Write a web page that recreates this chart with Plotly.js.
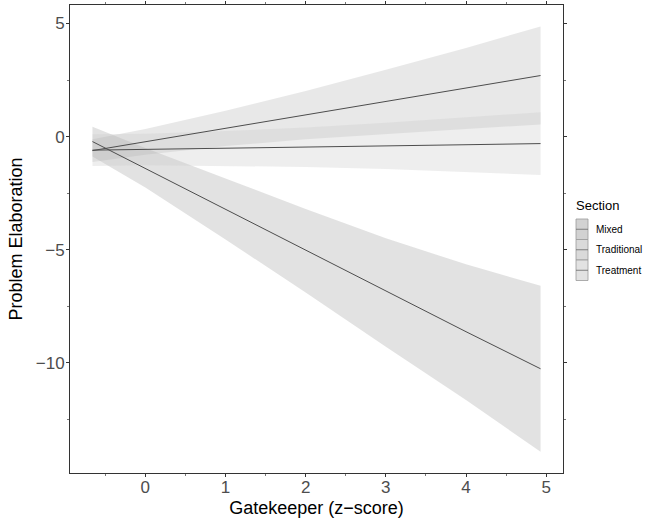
<!DOCTYPE html>
<html>
<head>
<meta charset="utf-8">
<script src="https://cdn.plot.ly/plotly-3.0.1.min.js"></script>
<style>html,body{margin:0;padding:0;background:#fff;}#chart{width:645px;height:526px;}</style>
</head>
<body>
<div id="chart"></div>
<script>
// Data
var gatekeeper = [-0.66, 0, 1, 2, 3, 4, 4.93];
var sections = ["Mixed", "Traditional", "Treatment"];

var mixedFit   = [-0.22, -1.41, -3.22, -5.02, -6.83, -8.63, -10.27];
var mixedUpper = [0.44, -0.50, -1.85, -3.20, -4.50, -5.65, -6.60];
var mixedLower = [-0.88, -2.25, -4.55, -6.90, -9.30, -11.65, -13.94];

var tradFit   = [-0.62, -0.23, 0.37, 0.96, 1.56, 2.15, 2.70];
var tradUpper = [-0.12, 0.33, 1.14, 2.02, 2.96, 3.92, 4.87];
var tradLower = [-1.12, -0.80, -0.42, -0.12, 0.12, 0.34, 0.53];

var treatFit   = [-0.60, -0.57, -0.52, -0.47, -0.41, -0.36, -0.31];
var treatUpper = [0.10, 0.13, 0.25, 0.40, 0.61, 0.84, 1.08];
var treatLower = [-1.30, -1.27, -1.29, -1.34, -1.43, -1.56, -1.70];

var xTicks = [0, 1, 2, 3, 4, 5];
var yTicks = [-10, -5, 0, 5];

var fits = [mixedFit, tradFit, treatFit];
var uppers = [mixedUpper, tradUpper, treatUpper];
var lowers = [mixedLower, tradLower, treatLower];
var bandFills = ['rgba(51,51,51,0.14)', 'rgba(127,127,127,0.18)', 'rgba(204,204,204,0.33)'];
var keyFills = ['#d2d2d2', '#dadada', '#e2e2e2'];
var lineColor = '#4d4d4d';

var traces = [];
for (var i = 0; i < sections.length; i++) {
  var xr = gatekeeper.slice().reverse();
  var lr = lowers[i].slice().reverse();
  traces.push({
    type: 'scatter', mode: 'lines', name: sections[i] + ' CI',
    x: gatekeeper.concat(xr), y: uppers[i].concat(lr),
    fill: 'toself', fillcolor: bandFills[i],
    line: {width: 0}, hoverinfo: 'skip', showlegend: false
  });
}
for (var j = 0; j < sections.length; j++) {
  traces.push({
    type: 'scatter', mode: 'lines', name: sections[j],
    x: gatekeeper, y: fits[j],
    line: {color: lineColor, width: 1}, showlegend: false
  });
}

// plot area in pixels
var L = 70, R = 563, T = 5, B = 473;
function px(x) { return (x - L) / (R - L); }
function py(y) { return (B - y) / (B - T); }

var shapes = [];
var annotations = [];
annotations.push({xref: 'paper', yref: 'paper', x: px(574), y: py(205), xanchor: 'left', yanchor: 'middle',
  text: 'Section', showarrow: false, font: {family: 'Liberation Sans, Arial, sans-serif', size: 13, color: '#000'}});
for (var k = 0; k < sections.length; k++) {
  var keyTop = 219 + k * 20.5;
  var keyBot = keyTop + 20.5;
  var keyMid = (keyTop + keyBot) / 2;
  shapes.push({type: 'rect', xref: 'paper', yref: 'paper', x0: px(576), x1: px(588), y0: py(keyBot), y1: py(keyTop),
    fillcolor: keyFills[k], line: {color: '#9a9a9a', width: 0.8}});
  shapes.push({type: 'line', xref: 'paper', yref: 'paper', x0: px(576), x1: px(588), y0: py(keyMid), y1: py(keyMid),
    line: {color: '#6a6a6a', width: 0.8}});
  annotations.push({xref: 'paper', yref: 'paper', x: px(594), y: py(keyMid), xanchor: 'left', yanchor: 'middle',
    text: sections[k], showarrow: false, font: {family: 'Liberation Sans, Arial, sans-serif', size: 10, color: '#000'}});
}

var layout = {
  width: 645, height: 526,
  margin: {l: L, r: 645 - R, t: T, b: 526 - B},
  paper_bgcolor: '#fff', plot_bgcolor: '#fff',
  font: {family: 'Liberation Sans, Arial, sans-serif'},
  showlegend: false,
  xaxis: {
    range: [-0.94, 5.21], tickvals: xTicks, ticktext: xTicks.map(String),
    showgrid: false, zeroline: false, showline: true, mirror: 'ticks',
    linecolor: '#333', linewidth: 1, ticks: 'outside', ticklen: 3, tickcolor: '#333',
    minor: {dtick: 0.5, tick0: 0, ticklen: 2, tickcolor: '#777', ticks: 'outside', showgrid: false},
    tickfont: {size: 17, color: '#4d4d4d'}, ticklabelstandoff: -4,
    title: {text: 'Gatekeeper (z\u2212score)', font: {size: 18, color: '#000'}, standoff: 4}
  },
  yaxis: {
    range: [-14.88, 5.82], tickvals: yTicks, ticktext: ['\u221210', '\u22125', '0', '5'],
    showgrid: false, zeroline: false, showline: true, mirror: 'ticks',
    linecolor: '#333', linewidth: 1, ticks: 'outside', ticklen: 3, tickcolor: '#333',
    minor: {dtick: 2.5, tick0: 0, ticklen: 2, tickcolor: '#777', ticks: 'outside', showgrid: false},
    tickfont: {size: 17, color: '#4d4d4d'}, ticklabelstandoff: -2,
    title: {text: 'Problem Elaboration', font: {size: 18, color: '#000'}, standoff: 8}
  },
  shapes: shapes,
  annotations: annotations
};

Plotly.newPlot('chart', traces, layout, {displayModeBar: false, staticPlot: true});
</script>
</body>
</html>
